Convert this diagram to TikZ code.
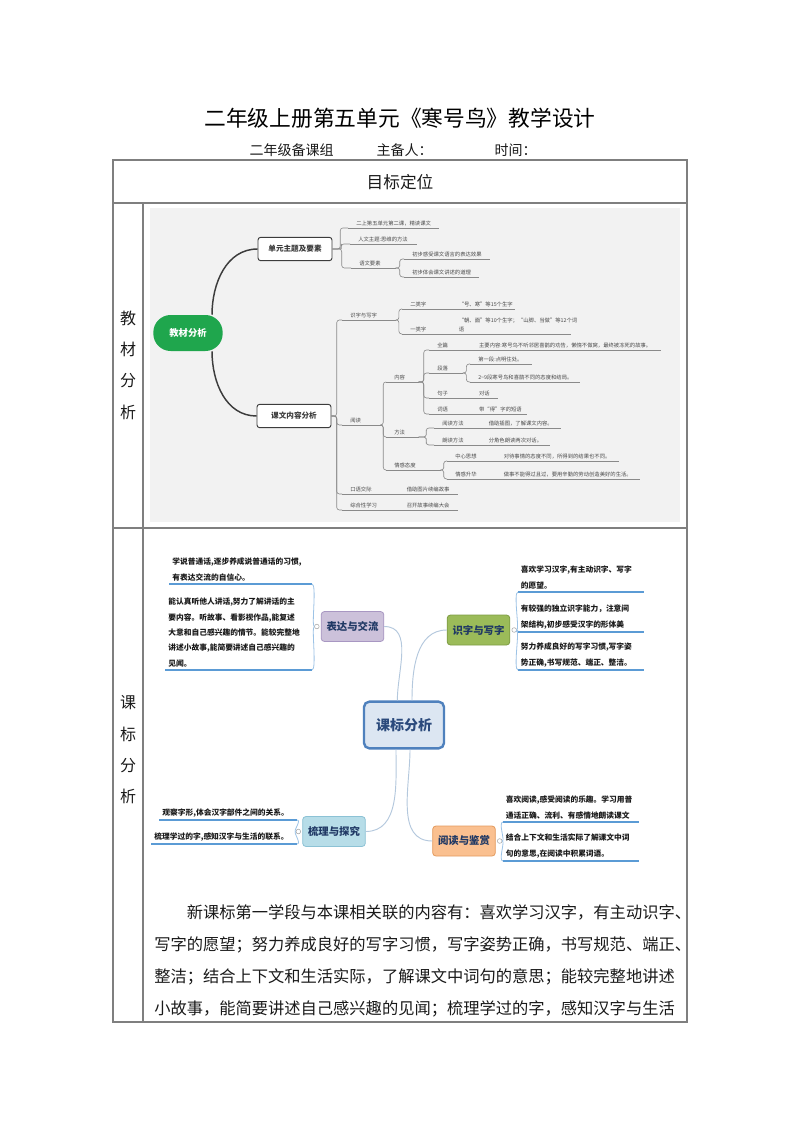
\documentclass[tikz,border=0pt]{standalone}
\usepackage{fontspec}
\setmainfont{Noto Sans CJK SC}
\usetikzlibrary{calc,positioning}
\definecolor{TBLine}{HTML}{7F7F7F}
\definecolor{TBText}{HTML}{1A1A1A}
\definecolor{MMBack}{HTML}{F2F2F2}
\definecolor{MMLine}{HTML}{8A8A8A}
\definecolor{MMDark}{HTML}{3C3C3C}
\definecolor{MMText}{HTML}{4A4A4A}
\definecolor{MMGreen}{HTML}{1FA64D}
\definecolor{KBFill}{HTML}{DCE6F2}
\definecolor{KBDraw}{HTML}{4F81BD}
\definecolor{KBText}{HTML}{2B4A7C}
\definecolor{KBLink}{HTML}{B4C8DD}
\definecolor{KBNote}{HTML}{5B9BD5}
\definecolor{KBBracket}{HTML}{9DC3E6}
\definecolor{BDFill}{HTML}{CCC1DA}
\definecolor{BDDraw}{HTML}{A897C2}
\definecolor{SZFill}{HTML}{9BBB59}
\definecolor{SZDraw}{HTML}{7E9C44}
\definecolor{SLFill}{HTML}{B7DDE8}
\definecolor{SLDraw}{HTML}{8CC2D5}
\definecolor{YDFill}{HTML}{FAC090}
\definecolor{YDDraw}{HTML}{E49B5E}
\definecolor{TopicText}{HTML}{1F3864}
\tikzset{
  tbLine/.style={
    draw=TBLine,
    line width=0.9pt
  },
  tbTitle/.style={
    font=\fontsize{16.3pt}{18pt}\selectfont,
    text=black
  },
  tbSub/.style={
    font=\fontsize{10.5pt}{12pt}\selectfont,
    text=TBText,
    anchor=west
  },
  tbHead/.style={
    font=\fontsize{12.5pt}{14pt}\selectfont,
    text=TBText
  },
  tbSide/.style={
    font=\fontsize{12pt}{23.5pt}\selectfont,
    text=TBText,
    align=center
  },
  tbPara/.style={
    font=\fontsize{12.2pt}{24pt}\selectfont,
    text=TBText,
    align=left,
    anchor=north west,
    inner sep=0pt
  },
  mmRoot/.style={
    fill=MMGreen,
    text=white,
    font=\bfseries\fontsize{7pt}{8pt}\selectfont,
    rounded corners=13pt,
    minimum width=52pt,
    minimum height=27pt
  },
  mmBox/.style={
    draw=MMDark,
    fill=white,
    line width=0.7pt,
    rounded corners=2pt,
    text=MMDark,
    font=\bfseries\fontsize{5.7pt}{7pt}\selectfont,
    minimum width=55.5pt,
    minimum height=17.5pt
  },
  mmUnder/.style={
    draw=MMLine,
    line width=0.45pt
  },
  mmTopic/.style={
    font=\fontsize{4pt}{7pt}\selectfont,
    text=MMText,
    anchor=south west,
    align=left,
    inner xsep=6pt,
    inner ysep=1.3pt,
    append after command={(\tikzlastnode.south west) edge[mmUnder] (\tikzlastnode.south east)}
  },
  mmLink/.style={
    draw=MMLine,
    line width=0.45pt,
    rounded corners=2pt,
    to path={-| ($(\tikztostart)!.5!(\tikztotarget)$) |- (\tikztotarget)}
  },
  mmMain/.style={
    draw=MMDark,
    line width=1.1pt
  },
  kbRoot/.style={
    fill=KBFill,
    draw=KBDraw,
    line width=1.8pt,
    rounded corners=4pt,
    text=KBText,
    font=\bfseries\fontsize{10.5pt}{12pt}\selectfont,
    minimum width=60pt,
    minimum height=35pt
  },
  kbTopic/.style={
    line width=0.6pt,
    rounded corners=2.5pt,
    text=TopicText,
    font=\bfseries\fontsize{7.8pt}{9pt}\selectfont,
    minimum width=47pt,
    minimum height=22.5pt,
    inner sep=1pt
  },
  kbDot/.style={
    circle,
    draw=gray!70,
    fill=white,
    line width=0.4pt,
    minimum size=3.5pt,
    inner sep=0pt
  },
  kbUnder/.style={
    draw=KBNote,
    line width=1.1pt
  },
  kbNote/.style={
    font=\bfseries\fontsize{5.8pt}{11.5pt}\selectfont,
    text=TBText,
    align=left,
    inner xsep=2pt,
    inner ysep=2pt,
    append after command={(\tikzlastnode.south west) edge[kbUnder] (\tikzlastnode.south east)}
  },
  kbLink/.style={
    draw=KBLink,
    line width=0.7pt
  },
  kbBracket/.style={
    draw=KBBracket,
    line width=0.6pt
  }
}

\begin{document}
\begin{tikzpicture}[x=0.75pt, y=-0.75pt]
  \fill[white] (0,0) rectangle (800,1131);
  \useasboundingbox (0,0) rectangle (800,1131);

  \node[tbTitle] (title) at (400,118) {二年级上册第五单元《寒号鸟》教学设计};
  \node[tbSub] (team) at (245,150) {二年级备课组};
  \node[tbSub] (lead) at (372,150) {主备人：};
  \node[tbSub] (date) at (490,150) {时间：};

  \draw[tbLine] (113,160) rectangle (687,1022);
  \draw[tbLine] (113,203) -- (687,203);
  \draw[tbLine] (113,528) -- (687,528);
  \draw[tbLine] (143,203) -- (143,1022);
  \node[tbHead] (goal) at (400,182) {目标定位};
  \node[tbSide] (sideA) at (128,365) {教\\材\\分\\析};
  \node[tbSide] (sideB) at (128,750) {课\\标\\分\\析};

  % 教材分析
  \fill[MMBack] (150,208) rectangle (680,522);
  \node[mmRoot] (jc) at (188,333) {教材分析};
  \node[mmBox] (zt) at (295,249) {单元主题及要素};
  \node[mmBox] (kw) at (294,416) {课文内容分析};
  \draw[mmMain] ([xshift=18pt]jc.north) to[out=90,in=180] (zt.west);
  \draw[mmMain] ([xshift=18pt]jc.south) to[out=-90,in=180] (kw.west);

  \node[mmTopic, text width=56pt] (a1) at (348,228) {二上第五单元第二课，精读课文};
  \node[mmTopic, text width=38pt] (a2) at (350,244) {人文主题:思维的方法};
  \node[mmTopic, text width=21pt] (a3) at (351,268) {语文要素};
  \node[mmTopic, text width=52pt] (b1) at (404,259) {初步感受课文语言的表达效果};
  \node[mmTopic, text width=44pt] (b2) at (404,277) {初步体会课文讲述的道理};

  \node[mmTopic, text width=28pt] (c1) at (342,320) {识字与写字};
  \node[mmTopic, text width=24pt] (d1) at (402,309) {二类字};
  \node[mmTopic, text width=36pt] (e1) at (d1.south east) {“号、寒”等15个生字};
  \node[mmTopic, text width=24pt] (d2) at (402,334) {一类字};
  \node[mmTopic, text width=78pt] (e2) at (d2.south east) {“朝、面”等10个生字；“山脚、当做”等12个词\\语};

  \node[mmTopic, text width=16.5pt] (c2) at (342,425) {阅读};
  \node[mmTopic, text width=12pt] (f1) at (386,382) {内容};
  \node[mmTopic, text width=19pt] (g1) at (429,350) {全篇};
  \node[mmTopic, text width=130pt] (h1) at (g1.south east) {主要内容:寒号鸟不听邻居喜鹊的劝告，懒惰不做窝，最终被冻死的故事。};
  \node[mmTopic, text width=13pt] (g2) at (429,373) {段落};
  \node[mmTopic, text width=34pt] (i1) at (470,364) {第一段:点明住处。};
  \node[mmTopic, text width=70pt] (i2) at (470,382) {2\textasciitilde9段寒号鸟和喜鹊不同的态度和结局。};
  \node[mmTopic, text width=19pt] (g3) at (429,398) {句子};
  \node[mmTopic, text width=8pt] (j1) at (g3.south east) {对话};
  \node[mmTopic, text width=19pt] (g4) at (429,414) {词语};
  \node[mmTopic, text width=30pt] (j2) at (g4.south east) {带“得”字的短语};
  \node[mmTopic, text width=12pt] (f2) at (386,437) {方法};
  \node[mmTopic, text width=22.5pt] (k1) at (434,428) {阅读方法};
  \node[mmTopic, text width=48pt] (l1) at (k1.south east) {借助插图，了解课文内容。};
  \node[mmTopic, text width=22.5pt] (k2) at (434,445) {朗读方法};
  \node[mmTopic, text width=40pt] (l2) at (k2.south east) {分角色朗读两次对话。};
  \node[mmTopic, text width=28.5pt] (f3) at (386,470) {情感态度};
  \node[mmTopic, text width=24pt] (m1) at (447,461) {中心思想};
  \node[mmTopic, text width=80pt] (n1) at (m1.south east) {对待事情的态度不同，所得到的结果也不同。};
  \node[mmTopic, text width=24pt] (m2) at (447,479) {情感升华};
  \node[mmTopic, text width=96pt] (n2) at (m2.south east) {做事不能得过且过，要用辛勤的劳动创造美好的生活。};

  \node[mmTopic, text width=30pt] (c3) at (342,494) {口语交际};
  \node[mmTopic, text width=32pt] (o1) at (c3.south east) {借助图片续编故事};
  \node[mmTopic, text width=30pt] (c4) at (342,510) {综合性学习};
  \node[mmTopic, text width=32pt] (o2) at (c4.south east) {召开故事续编大会};

  \draw[mmLink] (zt.east) to (a1.south west);
  \draw[mmLink] (zt.east) to (a2.south west);
  \draw[mmLink] (zt.east) to (a3.south west);
  \draw[mmLink] (a3.south east) to (b1.south west);
  \draw[mmLink] (a3.south east) to (b2.south west);
  \draw[mmLink] (kw.east) to (c1.south west);
  \draw[mmLink] (kw.east) to (c2.south west);
  \draw[mmLink] (kw.east) to (c3.south west);
  \draw[mmLink] (kw.east) to (c4.south west);
  \draw[mmLink] (c1.south east) to (d1.south west);
  \draw[mmLink] (c1.south east) to (d2.south west);
  \draw[mmLink] (c2.south east) to (f1.south west);
  \draw[mmLink] (c2.south east) to (f2.south west);
  \draw[mmLink] (c2.south east) to (f3.south west);
  \draw[mmLink] (f1.south east) to (g1.south west);
  \draw[mmLink] (f1.south east) to (g2.south west);
  \draw[mmLink] (f1.south east) to (g3.south west);
  \draw[mmLink] (f1.south east) to (g4.south west);
  \draw[mmLink] (g2.south east) to (i1.south west);
  \draw[mmLink] (g2.south east) to (i2.south west);
  \draw[mmLink] (f2.south east) to (k1.south west);
  \draw[mmLink] (f2.south east) to (k2.south west);
  \draw[mmLink] (f3.south east) to (m1.south west);
  \draw[mmLink] (f3.south east) to (m2.south west);

  % 课标分析
  \node[kbRoot] (kb) at (404,725) {课标分析};
  \node[kbTopic, fill=BDFill, draw=BDDraw] (bd) at (352.5,626.5) {表达与交流};
  \node[kbTopic, fill=SZFill, draw=SZDraw] (sz) at (478.5,630) {识字与写字};
  \node[kbTopic, fill=SLFill, draw=SLDraw] (sl) at (334,831.5) {梳理与探究};
  \node[kbTopic, fill=YDFill, draw=YDDraw] (yd) at (464,841) {阅读与鉴赏};
  \node[kbDot, left=1pt of bd] (bdDot) {};
  \node[kbDot, right=1pt of sz] (szDot) {};
  \node[kbDot, left=1pt of sl] (slDot) {};
  \node[kbDot, right=1pt of yd] (ydDot) {};

  \draw[kbLink] ([xshift=-5pt]kb.north) to[out=90,in=0] (bd.east);
  \draw[kbLink] ([xshift=6pt]kb.north) to[out=90,in=180] (sz.west);
  \draw[kbLink] ([xshift=-6pt]kb.south) to[out=-90,in=0] (sl.east);
  \draw[kbLink] ([xshift=4.5pt]kb.south) to[out=-90,in=180] (yd.west);

  \node[kbNote, anchor=south east, text width=102.5pt] (p1) at (312,584) {学说普通话,逐步养成说普通话的习惯,\\有表达交流的自信心。};
  \node[kbNote, anchor=south east, text width=105.5pt] (p2) at (312,670) {能认真听他人讲话,努力了解讲话的主\\要内容。听故事、看影视作品,能复述\\大意和自己感兴趣的情节。能较完整地\\讲述小故事,能简要讲述自己感兴趣的\\见闻。};
  \node[kbNote, anchor=south west, text width=89.75pt] (q1) at (518,592) {喜欢学习汉字,有主动识字、写字\\的愿望。};
  \node[kbNote, anchor=south west, text width=89.75pt] (q2) at (518,632) {有较强的独立识字能力，注意间\\架结构,初步感受汉字的形体美};
  \node[kbNote, anchor=south west, text width=89.75pt] (q3) at (518,670) {努力养成良好的写字习惯,写字姿\\势正确,书写规范、端正、整洁。};
  \node[kbNote, anchor=south east, text width=98.75pt] (r1) at (297,820) {观察字形,体会汉字部件之间的关系。};
  \node[kbNote, anchor=south east, text width=104.75pt] (r2) at (297,844) {梳理学过的字,感知汉字与生活的联系。};
  \node[kbNote, anchor=south west, text width=97.25pt] (s1) at (503,822) {喜欢阅读,感受阅读的乐趣。学习用普\\通话正确、流利、有感情地朗读课文};
  \node[kbNote, anchor=south west, text width=97.25pt] (s2) at (503,861) {结合上下文和生活实际了解课文中词\\句的意思,在阅读中积累词语。};

  \draw[kbBracket] (bdDot.west) .. controls +(-3,0) and +(5,0) .. (p1.south east);
  \draw[kbBracket] (bdDot.west) .. controls +(-3,0) and +(5,0) .. (p2.south east);
  \draw[kbBracket] (szDot.east) .. controls +(3,0) and +(-5,0) .. (q1.south west);
  \draw[kbBracket] (szDot.east) .. controls +(3,0) and +(-5,0) .. (q2.south west);
  \draw[kbBracket] (szDot.east) .. controls +(3,0) and +(-5,0) .. (q3.south west);
  \draw[kbBracket] (slDot.west) .. controls +(-3,0) and +(5,0) .. (r1.south east);
  \draw[kbBracket] (slDot.west) .. controls +(-3,0) and +(5,0) .. (r2.south east);
  \draw[kbBracket] (ydDot.east) .. controls +(3,0) and +(-5,0) .. (s1.south west);
  \draw[kbBracket] (ydDot.east) .. controls +(3,0) and +(-5,0) .. (s2.south west);

  \node[tbPara] (para) at (154,904) {\hspace*{2em}新课标第一学段与本课相关联的内容有：喜欢学习汉字，有主动识字、\\写字的愿望；努力养成良好的写字习惯，写字姿势正确，书写规范、端正、\\整洁；结合上下文和生活实际，了解课文中词句的意思；能较完整地讲述\\小故事，能简要讲述自己感兴趣的见闻；梳理学过的字，感知汉字与生活};
\end{tikzpicture}
\end{document}
